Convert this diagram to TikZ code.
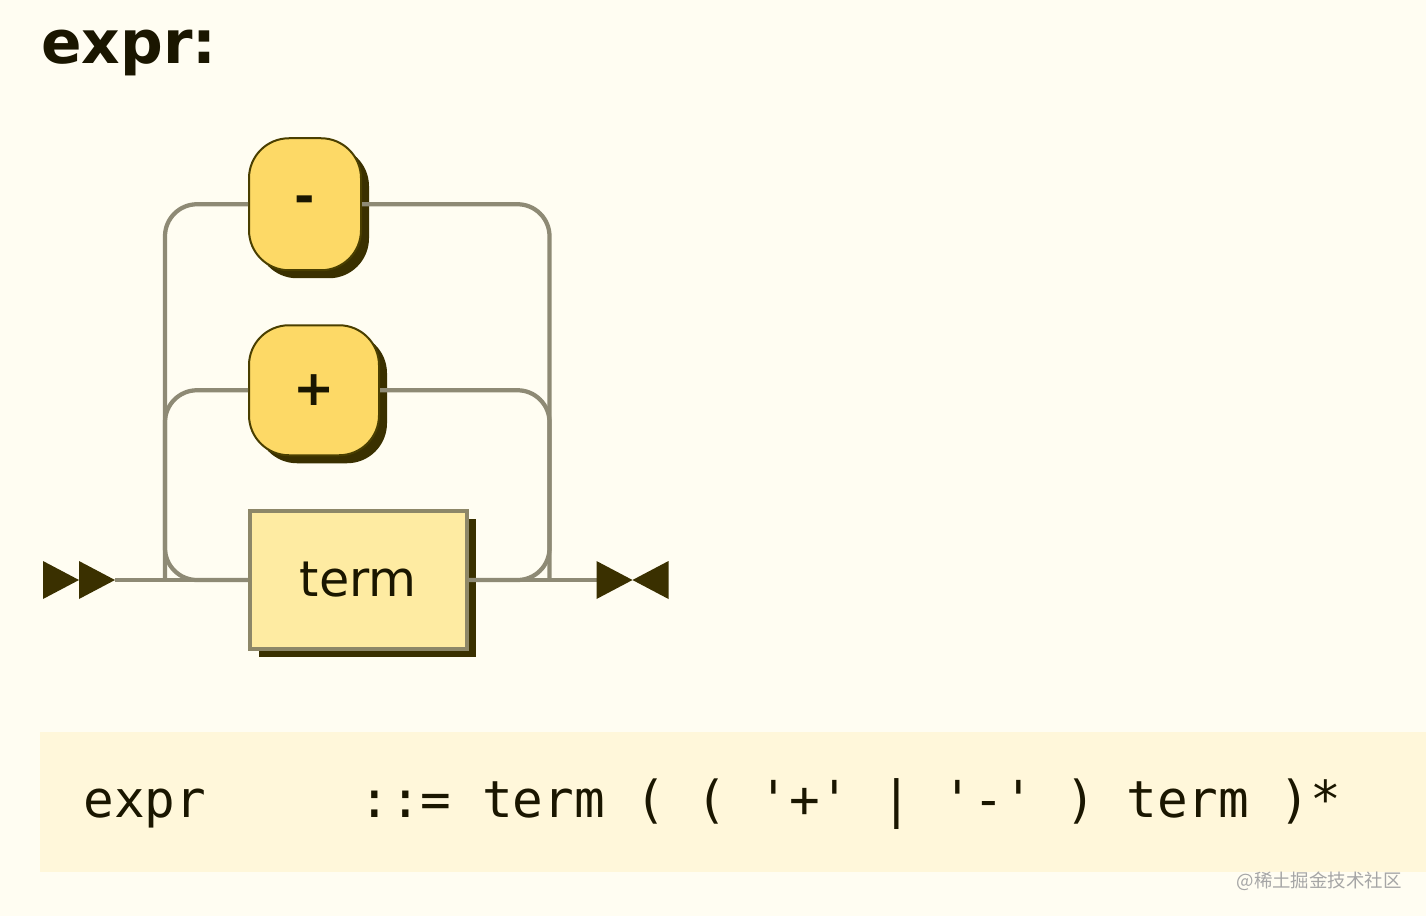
\documentclass[tikz,border=0pt]{standalone}
\usepackage{fontspec}
\setmainfont{DejaVu Sans}
\setmonofont{DejaVu Sans Mono}
\newfontfamily\cjkfont{Noto Sans CJK SC}
\usetikzlibrary{positioning, shadows}

\definecolor{bgc}{HTML}{FFFDF2}
\definecolor{codebg}{HTML}{FFF7DA}
\definecolor{tfill}{HTML}{FDD966}
\definecolor{tborder}{HTML}{4A3F00}
\definecolor{nfill}{HTML}{FEEBA2}
\definecolor{nborder}{HTML}{8D8768}
\definecolor{shadowc}{HTML}{3A3000}
\definecolor{railc}{HTML}{8E8A75}
\definecolor{inkc}{HTML}{1A1600}

\begin{document}
\begin{tikzpicture}[
  x=0.2mm, y=-0.2mm,
  terminal/.style={draw=tborder, fill=tfill, line width=0.4mm, rounded corners=8mm,
    text=inkc, font=\bfseries\fontsize{28}{32}\selectfont,
    drop shadow={shadow xshift=1.6mm, shadow yshift=-1.6mm, fill=shadowc, opacity=1}},
  nonterminal/.style={draw=nborder, fill=nfill, line width=0.7mm,
    minimum width=43.4mm, minimum height=27.6mm,
    text=inkc, font=\fontsize{28}{32}\selectfont,
    drop shadow={shadow xshift=1.8mm, shadow yshift=-1.6mm, fill=shadowc, opacity=1}},
  rail/.style={draw=railc, line width=0.85mm, rounded corners=6.4mm},
  railend/.style={fill=shadowc}
]
\useasboundingbox (0,0) rectangle (1426,916);
\fill[bgc] (0,0) rectangle (1426,916);
\fill[codebg] (40,732) rectangle (1426,872);

\node[anchor=base west, inner sep=0, text=inkc, font=\bfseries\fontsize{34}{40}\selectfont] (title) at (41,63) {expr:};

\coordinate (start) at (115,580);
\node[nonterminal, right=26.6mm of start] (term) {term};
\node[terminal, minimum width=26mm, minimum height=26mm,
  above=10.6mm of term.north west, anchor=south west] (plus) {+};
\node[terminal, minimum width=22.4mm, minimum height=26.4mm,
  above=10.6mm of plus.north west, anchor=south west] (minus) {-};

\coordinate[left=16.6mm of term.west] (lb);
\coordinate[right=16.2mm of term.east] (rb);
\coordinate[right=25.6mm of term.east] (stop);

% main line
\draw[rail] (start) -- (term);
\draw[rail] (term) -- (stop);

% loop back through the operators
\draw[rail] (term.east) -- (rb) |- (minus.east);
\draw[rail] (plus.east) -| (rb);
\draw[rail] (minus.west) -| (lb) -- (term.west);
\draw[rail] (plus.west) -| (lb);

% start and end markers
\fill[railend] (start) ++(-36,0) -- ++(-36,-19) -- ++(0,38) -- cycle;
\fill[railend] (start) -- ++(-36,-19) -- ++(0,38) -- cycle;
\fill[railend] (stop) ++(0,-19) -- ++(36,19) -- ++(-36,19) -- cycle;
\fill[railend] (stop) ++(36,0) -- ++(36,-19) -- ++(0,38) -- cycle;

\node[anchor=base west, inner sep=0, text=inkc, font=\ttfamily\fontsize{29}{34}\selectfont] (code) at (83,817)
  {expr~~~~~::=~term~(~(~'+'~|~'-'~)~term~)*};

\node[anchor=east, inner sep=0, text=black!35, font=\cjkfont\fontsize{10.5}{12}\selectfont] (mark) at (1402,881) {@稀土掘金技术社区};
\end{tikzpicture}
\end{document}
